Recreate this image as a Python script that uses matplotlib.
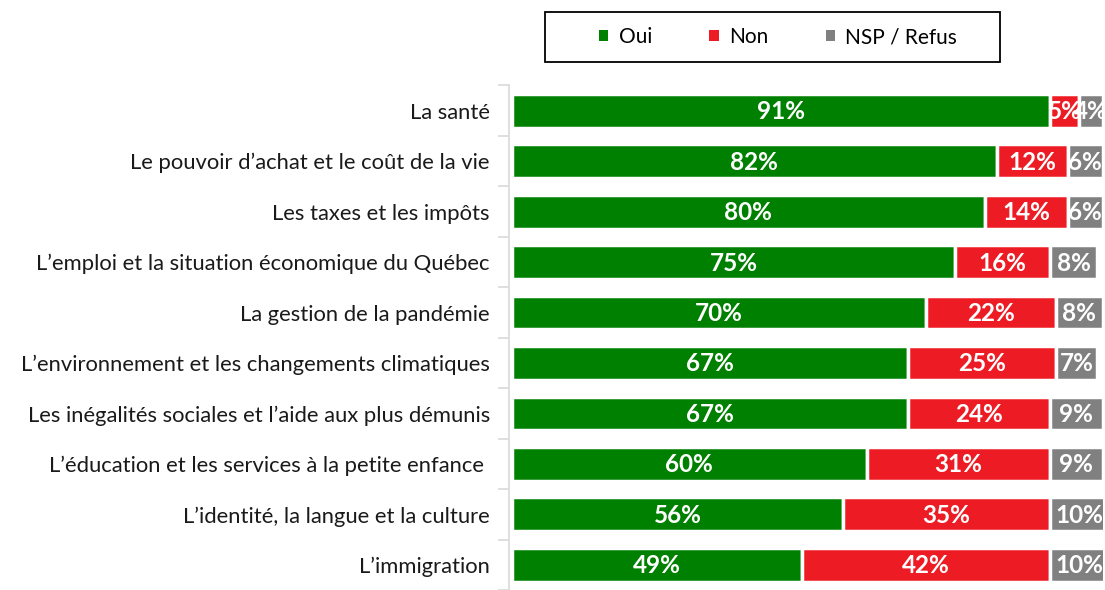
import matplotlib
matplotlib.use("Agg")
import matplotlib.pyplot as plt
from matplotlib.patches import Patch, Rectangle

categories = [
    "La santé",
    "Le pouvoir d’achat et le coût de la vie",
    "Les taxes et les impôts",
    "L’emploi et la situation économique du Québec",
    "La gestion de la pandémie",
    "L’environnement et les changements climatiques",
    "Les inégalités sociales et l’aide aux plus démunis",
    "L’éducation et les services à la petite enfance ",
    "L’identité, la langue et la culture",
    "L’immigration",
]
oui = [91, 82, 80, 75, 70, 67, 67, 60, 56, 49]
non = [5, 12, 14, 16, 22, 25, 24, 31, 35, 42]
nsp = [4, 6, 6, 8, 8, 7, 9, 9, 10, 10]
series_names = ["Oui", "Non", "NSP / Refus"]
colors = ["#008000", "#ED1C24", "#808080"]

plt.rcParams['font.family'] = ['Lato', 'DejaVu Sans']

W, H = 1105, 590
fig = plt.figure(figsize=(W / 100, H / 100), dpi=100)
left = 512 / W
right = 1103 / W
top = 1 - 85.5 / H
ax = fig.add_axes([left, 0, right - left, top])

n = len(categories)
ys = list(range(n))
spacing_px = 51.0
units_total = (H - 85.5) / spacing_px
ax.set_ylim(-0.5 + units_total, -0.5)
ax.set_xlim(0, 100)

lefts = [0] * n
for vals, col, name in zip([oui, non, nsp], colors, series_names):
    ax.barh(ys, vals, left=lefts, height=0.67, color=col,
            edgecolor="white", linewidth=2.5, label=name)
    for y, v, l in zip(ys, vals, lefts):
        ax.text(l + v / 2, y + 0.02, f"{v}%", ha="center", va="center",
                color="white", fontsize=17.5, fontweight="bold", clip_on=False)
    lefts = [a + b for a, b in zip(lefts, vals)]

ax.set_yticks(ys)
ax.set_yticklabels(categories)
ax.tick_params(axis="y", which="major", length=0, pad=14,
               labelsize=15.8, labelcolor="#1a1a1a")
ax.set_yticks([y + 0.5 for y in [-1] + ys], minor=True)
ax.tick_params(axis="y", which="minor", length=8, color="#d9d9d9", width=1.2)
ax.set_xticks([])
for s in ["top", "right", "bottom"]:
    ax.spines[s].set_visible(False)
ax.spines["left"].set_color("#d9d9d9")
ax.spines["left"].set_linewidth(1.2)
ax.spines["left"].set_position(("outward", 2))

# legend box
fig.patches.append(Rectangle((545 / W, 1 - 62 / H), 455 / W, 50 / H,
                             transform=fig.transFigure, facecolor="white",
                             edgecolor="black", linewidth=1.3, zorder=1))
handles = [Patch(facecolor=c, edgecolor="none") for c in colors]
leg = fig.legend(handles, series_names, loc="center",
                 bbox_to_anchor=(778 / W, 1 - 37 / H), ncol=3,
                 frameon=False, fontsize=15,
                 handlelength=0.45, handleheight=0.45,
                 columnspacing=2.75, handletextpad=0.5,
                 borderpad=0, borderaxespad=0)
leg.set_zorder(2)

fig.savefig("out.png", dpi=100)
